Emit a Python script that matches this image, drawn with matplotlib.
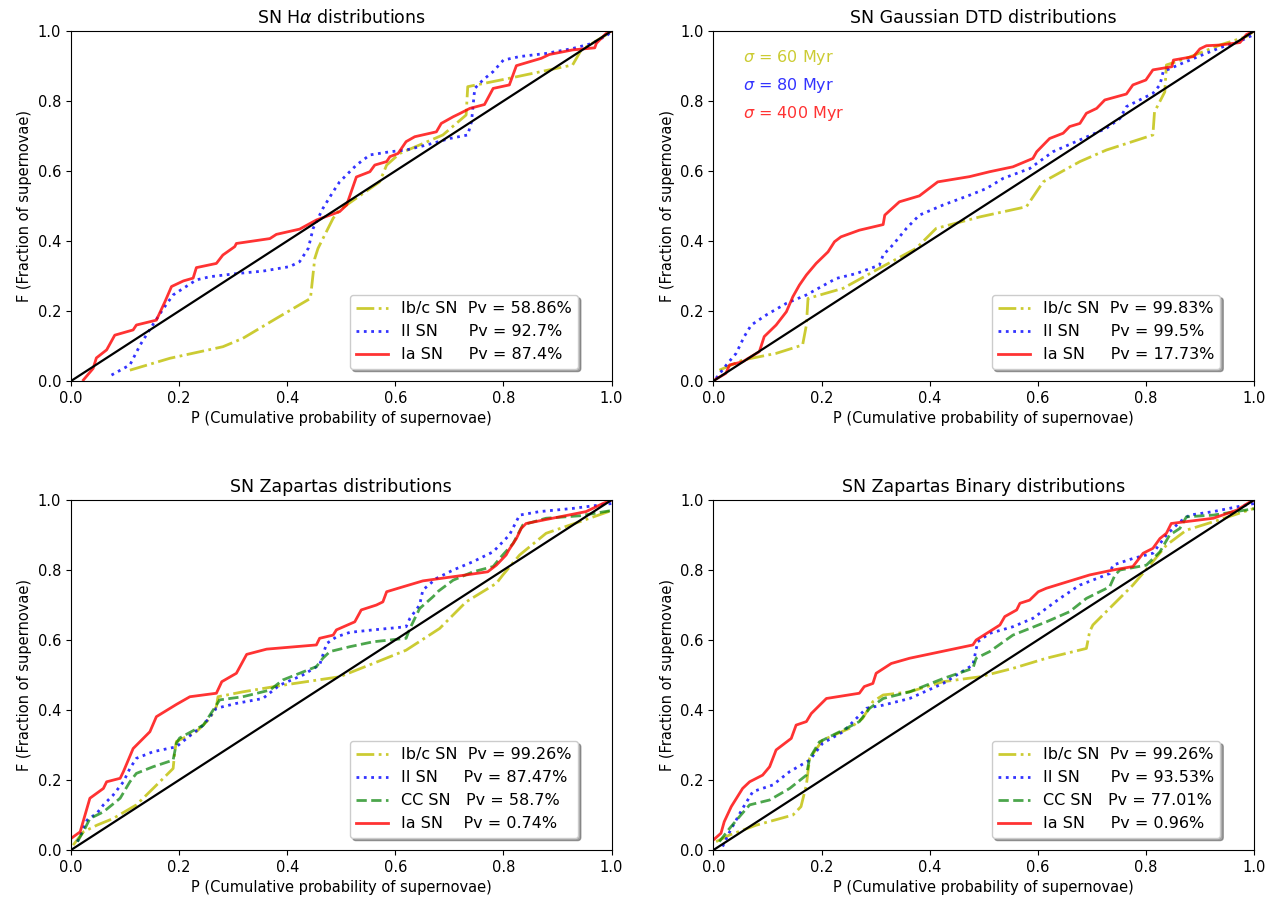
import matplotlib
matplotlib.use("Agg")
import matplotlib.pyplot as plt

# SN H-alpha panel
ha_ibc_p = [0.109, 0.183, 0.281, 0.318, 0.38, 0.443, 0.451, 0.457, 0.485, 0.497, 0.571, 0.584, 0.608, 0.688, 0.731, 0.734, 0.811, 0.928, 0.944, 0.99, 1.0]
ha_ibc_f = [0.031, 0.065, 0.098, 0.122, 0.179, 0.236, 0.35, 0.379, 0.465, 0.489, 0.569, 0.617, 0.65, 0.703, 0.76, 0.841, 0.865, 0.903, 0.946, 0.989, 1.0]
ha_ii_p = [0.075, 0.109, 0.128, 0.149, 0.171, 0.189, 0.208, 0.232, 0.257, 0.306, 0.355, 0.405, 0.423, 0.439, 0.448, 0.466, 0.485, 0.497, 0.528, 0.553, 0.59, 0.62, 0.657, 0.701, 0.734, 0.741, 0.747, 0.762, 0.781, 0.8, 0.83, 0.879, 0.928, 0.965, 0.993, 1.0]
ha_ii_f = [0.017, 0.046, 0.103, 0.155, 0.207, 0.246, 0.265, 0.289, 0.298, 0.307, 0.314, 0.327, 0.341, 0.379, 0.436, 0.493, 0.541, 0.569, 0.617, 0.646, 0.655, 0.66, 0.674, 0.693, 0.703, 0.741, 0.836, 0.86, 0.884, 0.917, 0.927, 0.936, 0.95, 0.965, 0.989, 1.0]
ha_ia_p = [0.023, 0.041, 0.047, 0.066, 0.081, 0.115, 0.121, 0.158, 0.174, 0.186, 0.208, 0.226, 0.232, 0.269, 0.281, 0.303, 0.306, 0.368, 0.38, 0.423, 0.454, 0.497, 0.51, 0.528, 0.553, 0.562, 0.584, 0.59, 0.605, 0.62, 0.636, 0.676, 0.685, 0.707, 0.719, 0.738, 0.765, 0.781, 0.811, 0.824, 0.848, 0.87, 0.885, 0.928, 0.969, 0.972, 0.99, 1.0]
ha_ia_f = [0.003, 0.036, 0.066, 0.089, 0.131, 0.146, 0.16, 0.174, 0.227, 0.27, 0.286, 0.294, 0.324, 0.336, 0.36, 0.384, 0.393, 0.407, 0.419, 0.434, 0.46, 0.484, 0.503, 0.583, 0.598, 0.617, 0.627, 0.641, 0.65, 0.684, 0.698, 0.712, 0.736, 0.755, 0.764, 0.779, 0.79, 0.836, 0.846, 0.901, 0.912, 0.922, 0.933, 0.946, 0.952, 0.965, 0.993, 1.0]

# SN Gaussian DTD panel
g_ibc_p = [0.011, 0.054, 0.116, 0.165, 0.172, 0.175, 0.24, 0.307, 0.375, 0.412, 0.493, 0.579, 0.61, 0.678, 0.727, 0.813, 0.816, 0.835, 0.838, 0.875, 0.937, 0.986, 1.0]
g_ibc_f = [0.031, 0.06, 0.079, 0.103, 0.16, 0.236, 0.265, 0.322, 0.379, 0.436, 0.469, 0.498, 0.569, 0.627, 0.66, 0.703, 0.769, 0.826, 0.903, 0.922, 0.96, 0.984, 1.0]
g_ii_p = [0.005, 0.026, 0.042, 0.057, 0.07, 0.098, 0.135, 0.172, 0.227, 0.264, 0.307, 0.314, 0.332, 0.357, 0.381, 0.425, 0.474, 0.505, 0.536, 0.585, 0.628, 0.678, 0.727, 0.752, 0.764, 0.813, 0.826, 0.832, 0.863, 0.9, 0.937, 0.974, 1.0]
g_ii_f = [0.008, 0.05, 0.079, 0.127, 0.16, 0.189, 0.222, 0.246, 0.293, 0.307, 0.331, 0.36, 0.389, 0.436, 0.474, 0.503, 0.531, 0.55, 0.579, 0.607, 0.655, 0.689, 0.722, 0.75, 0.784, 0.822, 0.846, 0.884, 0.905, 0.929, 0.952, 0.971, 0.99]
g_ia_p = [0.002, 0.023, 0.03, 0.054, 0.085, 0.094, 0.116, 0.135, 0.147, 0.159, 0.172, 0.19, 0.212, 0.224, 0.236, 0.27, 0.314, 0.317, 0.344, 0.381, 0.415, 0.474, 0.511, 0.554, 0.591, 0.598, 0.622, 0.647, 0.659, 0.678, 0.69, 0.709, 0.724, 0.764, 0.776, 0.8, 0.813, 0.848, 0.851, 0.888, 0.9, 0.912, 0.937, 0.974, 0.986, 1.0]
g_ia_f = [0.003, 0.022, 0.046, 0.055, 0.084, 0.127, 0.16, 0.198, 0.241, 0.274, 0.303, 0.336, 0.369, 0.398, 0.412, 0.431, 0.447, 0.474, 0.512, 0.529, 0.569, 0.584, 0.598, 0.612, 0.636, 0.655, 0.693, 0.708, 0.727, 0.736, 0.765, 0.779, 0.803, 0.82, 0.846, 0.86, 0.889, 0.898, 0.917, 0.927, 0.949, 0.958, 0.96, 0.967, 0.99, 1.0]

# SN Zapartas panel
z_ibc_p = [0.004, 0.023, 0.048, 0.078, 0.121, 0.152, 0.189, 0.192, 0.195, 0.232, 0.257, 0.269, 0.272, 0.318, 0.392, 0.466, 0.497, 0.559, 0.62, 0.682, 0.731, 0.787, 0.799, 0.83, 0.879, 0.941, 1.0]
z_ibc_f = [0.014, 0.052, 0.071, 0.09, 0.129, 0.176, 0.233, 0.281, 0.31, 0.338, 0.376, 0.41, 0.438, 0.452, 0.471, 0.488, 0.495, 0.533, 0.571, 0.633, 0.709, 0.762, 0.786, 0.843, 0.905, 0.938, 0.97]
z_ii_p = [0.012, 0.03, 0.048, 0.06, 0.078, 0.097, 0.109, 0.121, 0.152, 0.195, 0.214, 0.245, 0.269, 0.306, 0.355, 0.386, 0.429, 0.46, 0.473, 0.491, 0.516, 0.559, 0.62, 0.627, 0.645, 0.651, 0.676, 0.707, 0.744, 0.781, 0.811, 0.83, 0.867, 0.928, 1.0]
z_ii_f = [0.024, 0.086, 0.105, 0.129, 0.157, 0.195, 0.233, 0.262, 0.281, 0.295, 0.319, 0.357, 0.405, 0.419, 0.433, 0.471, 0.5, 0.529, 0.59, 0.609, 0.622, 0.629, 0.638, 0.662, 0.7, 0.743, 0.776, 0.8, 0.824, 0.852, 0.9, 0.957, 0.967, 0.976, 0.99]
z_cc_p = [0.012, 0.026, 0.035, 0.06, 0.091, 0.109, 0.121, 0.152, 0.189, 0.195, 0.201, 0.245, 0.269, 0.275, 0.318, 0.368, 0.392, 0.454, 0.466, 0.479, 0.516, 0.559, 0.62, 0.627, 0.645, 0.67, 0.68, 0.707, 0.744, 0.781, 0.793, 0.818, 0.836, 0.879, 0.941, 1.0]
z_cc_f = [0.024, 0.062, 0.09, 0.109, 0.148, 0.195, 0.219, 0.238, 0.257, 0.305, 0.32, 0.357, 0.414, 0.429, 0.438, 0.457, 0.486, 0.524, 0.548, 0.567, 0.581, 0.595, 0.605, 0.633, 0.69, 0.724, 0.74, 0.771, 0.795, 0.81, 0.833, 0.876, 0.929, 0.948, 0.955, 0.97]
z_ia_p = [0.0, 0.017, 0.026, 0.035, 0.06, 0.066, 0.091, 0.097, 0.115, 0.146, 0.158, 0.195, 0.22, 0.269, 0.279, 0.306, 0.325, 0.362, 0.454, 0.46, 0.485, 0.491, 0.525, 0.537, 0.565, 0.577, 0.584, 0.614, 0.651, 0.731, 0.771, 0.787, 0.805, 0.81, 0.824, 0.833, 0.842, 0.953, 0.984, 1.0]
z_ia_f = [0.033, 0.052, 0.1, 0.148, 0.176, 0.195, 0.205, 0.224, 0.29, 0.338, 0.381, 0.416, 0.438, 0.448, 0.481, 0.505, 0.559, 0.574, 0.586, 0.605, 0.614, 0.629, 0.652, 0.686, 0.7, 0.709, 0.738, 0.752, 0.769, 0.786, 0.795, 0.814, 0.843, 0.857, 0.89, 0.919, 0.933, 0.967, 0.99, 1.0]

# SN Zapartas Binary panel
b_ibc_p = [0.005, 0.03, 0.079, 0.147, 0.162, 0.172, 0.178, 0.202, 0.252, 0.276, 0.295, 0.314, 0.363, 0.425, 0.493, 0.554, 0.616, 0.69, 0.696, 0.702, 0.739, 0.776, 0.813, 0.838, 0.875, 0.925, 1.0]
b_ibc_f = [0.024, 0.043, 0.071, 0.1, 0.124, 0.186, 0.262, 0.314, 0.348, 0.376, 0.424, 0.443, 0.452, 0.481, 0.495, 0.519, 0.548, 0.576, 0.624, 0.643, 0.7, 0.757, 0.824, 0.871, 0.914, 0.938, 0.976]
b_ii_p = [0.017, 0.03, 0.054, 0.073, 0.11, 0.141, 0.178, 0.202, 0.24, 0.283, 0.314, 0.363, 0.425, 0.48, 0.489, 0.511, 0.554, 0.591, 0.641, 0.678, 0.733, 0.739, 0.776, 0.813, 0.838, 0.863, 0.881, 0.925, 0.986, 1.0]
b_ii_f = [0.01, 0.052, 0.119, 0.167, 0.186, 0.224, 0.257, 0.305, 0.338, 0.405, 0.414, 0.433, 0.476, 0.529, 0.595, 0.619, 0.638, 0.662, 0.719, 0.757, 0.79, 0.814, 0.833, 0.848, 0.9, 0.938, 0.957, 0.967, 0.986, 0.99]
b_cc_p = [0.011, 0.03, 0.048, 0.067, 0.104, 0.141, 0.172, 0.178, 0.196, 0.24, 0.27, 0.289, 0.314, 0.363, 0.425, 0.48, 0.486, 0.511, 0.554, 0.616, 0.659, 0.69, 0.733, 0.743, 0.752, 0.801, 0.826, 0.844, 0.863, 0.875, 0.925, 1.0]
b_cc_f = [0.024, 0.062, 0.095, 0.129, 0.143, 0.176, 0.214, 0.262, 0.309, 0.343, 0.367, 0.405, 0.433, 0.452, 0.49, 0.519, 0.548, 0.567, 0.614, 0.652, 0.681, 0.719, 0.752, 0.786, 0.8, 0.814, 0.852, 0.9, 0.919, 0.952, 0.957, 0.975]
b_ia_p = [0.0, 0.014, 0.02, 0.033, 0.054, 0.067, 0.091, 0.104, 0.116, 0.144, 0.153, 0.172, 0.181, 0.209, 0.27, 0.279, 0.295, 0.301, 0.329, 0.363, 0.48, 0.486, 0.53, 0.539, 0.561, 0.567, 0.585, 0.601, 0.616, 0.696, 0.739, 0.776, 0.795, 0.813, 0.826, 0.838, 0.847, 0.925, 0.968, 0.993, 1.0]
b_ia_f = [0.029, 0.048, 0.081, 0.124, 0.176, 0.195, 0.214, 0.238, 0.286, 0.319, 0.357, 0.367, 0.39, 0.433, 0.448, 0.467, 0.476, 0.505, 0.533, 0.548, 0.586, 0.6, 0.643, 0.667, 0.686, 0.705, 0.714, 0.738, 0.748, 0.786, 0.8, 0.81, 0.848, 0.862, 0.89, 0.905, 0.933, 0.948, 0.971, 0.995, 1.0]

titles = [r"SN H$\alpha$ distributions", "SN Gaussian DTD distributions",
          "SN Zapartas distributions", "SN Zapartas Binary distributions"]

ha_labels = ["Ib/c SN  Pv = 58.86%", "II SN      Pv = 92.7%", "Ia SN     Pv = 87.4%"]
g_labels = ["Ib/c SN  Pv = 99.83%", "II SN      Pv = 99.5%", "Ia SN     Pv = 17.73%"]
z_labels = ["Ib/c SN  Pv = 99.26%", "II SN     Pv = 87.47%", "CC SN   Pv = 58.7%", "Ia SN    Pv = 0.74%"]
b_labels = ["Ib/c SN  Pv = 99.26%", "II SN      Pv = 93.53%", "CC SN   Pv = 77.01%", "Ia SN     Pv = 0.96%"]

sigma_labels = [r"$\sigma$ = 60 Myr", r"$\sigma$ = 80 Myr", r"$\sigma$ = 400 Myr"]

diag = [0, 1]

# colour, linestyle, alpha
styles = {"ibc": ("y", "-.", 0.8), "ii": ("b", ":", 0.8), "cc": ("g", "--", 0.7), "ia": ("r", "-", 0.8)}

panels = [
    [("ibc", ha_ibc_p, ha_ibc_f), ("ii", ha_ii_p, ha_ii_f), ("ia", ha_ia_p, ha_ia_f)],
    [("ibc", g_ibc_p, g_ibc_f), ("ii", g_ii_p, g_ii_f), ("ia", g_ia_p, g_ia_f)],
    [("ibc", z_ibc_p, z_ibc_f), ("ii", z_ii_p, z_ii_f), ("cc", z_cc_p, z_cc_f), ("ia", z_ia_p, z_ia_f)],
    [("ibc", b_ibc_p, b_ibc_f), ("ii", b_ii_p, b_ii_f), ("cc", b_cc_p, b_cc_f), ("ia", b_ia_p, b_ia_f)],
]
labels = [ha_labels, g_labels, z_labels, b_labels]

fig, axes = plt.subplots(2, 2, figsize=(12.81, 9.07), dpi=100)
plt.subplots_adjust(left=0.0554, right=0.9789, top=0.9658, bottom=0.0628,
                    wspace=0.1885, hspace=0.34)

for i, ax in enumerate(axes.flat):
    for (kind, p, f), lab in zip(panels[i], labels[i]):
        color, ls, a = styles[kind]
        ax.plot(p, f, color=color, linestyle=ls, lw=2, alpha=a, label=lab)
    ax.plot(diag, diag, color="k", lw=1.6)
    ax.set_xlim(0, 1)
    ax.set_ylim(0, 1)
    ax.set_title(titles[i], fontsize=12.5)
    ax.set_xlabel("P (Cumulative probability of supernovae)", fontsize=10.5)
    ax.set_ylabel("F (Fraction of supernovae)", fontsize=10.5)
    ax.tick_params(labelsize=10.5)
    ax.legend(loc="lower right", bbox_to_anchor=(0.938, 0.035), borderaxespad=0,
              shadow=True, fontsize=11.5)

# sigma annotations in the Gaussian DTD panel
ax = axes[0, 1]
for lab, c, y in zip(sigma_labels, ["y", "b", "r"], [0.923, 0.843, 0.763]):
    ax.text(0.055, y, lab, color=c, alpha=0.8, fontsize=11.5,
            transform=ax.transAxes, va="center")

plt.savefig("out.png", dpi=100)
